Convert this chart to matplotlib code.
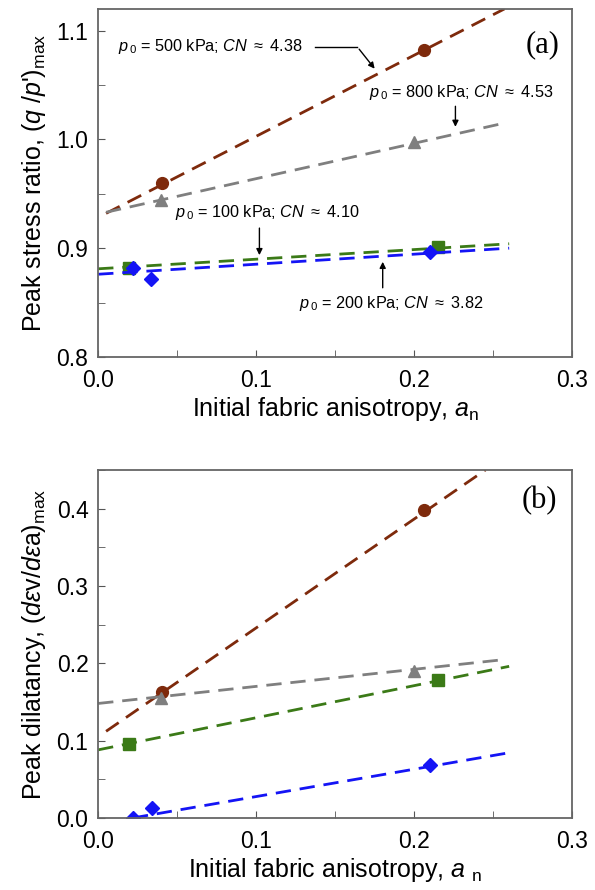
import numpy as np
import matplotlib
matplotlib.use("Agg")
import matplotlib.pyplot as plt
from matplotlib.ticker import MultipleLocator, FormatStrFormatter

plt.rcParams['font.family'] = ['Liberation Sans', 'DejaVu Sans']
plt.rcParams['mathtext.fontset'] = 'custom'
plt.rcParams['mathtext.rm'] = 'Liberation Sans'
plt.rcParams['mathtext.it'] = 'Liberation Sans:italic'
plt.rcParams['mathtext.bf'] = 'Liberation Sans:bold'

# ========================
# DATA
# ========================
labels = ["500", "800", "100", "200"]
colors = ["#7E2A0C", "#7F7F7F", "#3B7A17", "#1414F5"]
markers = ["o", "^", "s", "D"]
msizes = [8.5, 9, 8.5, 7]

# (a) peak stress ratio
an_a = [[0.0405, 0.206], [0.040, 0.200], [0.0196, 0.215], [0.022, 0.0335, 0.210]]
q_a = [[0.960, 1.082], [0.944, 0.998], [0.882, 0.901], [0.882, 0.872, 0.896]]
fit_x_a = [[0.005, 0.257], [0.005, 0.257], [0.0, 0.260], [0.0, 0.260]]
fit_y_a = [[0.932, 1.120], [0.933, 1.015], [0.881, 0.904], [0.876, 0.900]]

# (b) peak dilatancy
an_b = [[0.0405, 0.206], [0.040, 0.200], [0.0196, 0.215], [0.022, 0.034, 0.210]]
d_b = [[0.163, 0.398], [0.155, 0.190], [0.095, 0.178], [0.000, 0.013, 0.068]]
fit_x_b = [[0.005, 0.245], [0.0, 0.258], [0.0, 0.260], [0.022, 0.262]]
fit_y_b = [[0.112, 0.450], [0.148, 0.205], [0.088, 0.196], [0.000, 0.085]]

CN = ["4.38", "4.53", "4.10", "3.82"]

# ========================
# FIGURE
# ========================
fig = plt.figure(figsize=(5.95, 8.9), dpi=100)
ax1 = fig.add_axes([0.165, 0.599, 0.797, 0.391])
ax2 = fig.add_axes([0.165, 0.081, 0.797, 0.391])


def style(ax, ylim):
    ax.set_xlim(0, 0.3)
    ax.set_ylim(*ylim)
    ax.xaxis.set_major_locator(MultipleLocator(0.1))
    ax.xaxis.set_minor_locator(MultipleLocator(0.05))
    ax.yaxis.set_major_locator(MultipleLocator(0.1))
    ax.yaxis.set_minor_locator(MultipleLocator(0.05))
    ax.xaxis.set_major_formatter(FormatStrFormatter("%.1f"))
    ax.yaxis.set_major_formatter(FormatStrFormatter("%.1f"))
    ax.tick_params(which="both", direction="in", top=False, right=False,
                   labelsize=16.5, color="#555555", length=5)
    ax.tick_params(axis="x", pad=9)
    ax.tick_params(axis="y", pad=7)
    for s in ax.spines.values():
        s.set_color("#666666")
        s.set_linewidth(1.3)


for i in range(4):
    ax1.plot(fit_x_a[i], fit_y_a[i], ls=(0, (5.5, 3.2)), lw=2, color=colors[i])
    ax1.plot(an_a[i], q_a[i], ls="none", marker=markers[i], ms=msizes[i],
             color=colors[i])
    ax2.plot(fit_x_b[i], fit_y_b[i], ls=(0, (5.5, 3.2)), lw=2, color=colors[i])
    ax2.plot(an_b[i], d_b[i], ls="none", marker=markers[i], ms=msizes[i],
             color=colors[i])

style(ax1, (0.8, 1.12))
style(ax2, (0.0, 0.45))

ax1.set_xlabel(r"Initial fabric anisotropy, $a_{\rm n}$", fontsize=18, labelpad=2)
ax2.set_xlabel(r"Initial fabric anisotropy, $a\ _{\rm n}$", fontsize=18, labelpad=2)
ax1.set_ylabel(r"Peak stress ratio, ($q$ /$p$')$_{\rm max}$", fontsize=18, labelpad=6)
ax2.set_ylabel(r"Peak dilatancy, ($d\varepsilon$v/$d\varepsilon$a)$_{\rm max}$",
               fontsize=18, labelpad=6)

ax1.text(0.281, 1.087, "(a)", fontsize=22, family="Liberation Serif",
         ha="center", va="center")
ax2.text(0.279, 0.411, "(b)", fontsize=22, family="Liberation Serif",
         ha="center", va="center")

# annotations
def lab(p, c):
    return r"$p_{\,0}$ = " + p + r" kPa; $CN$ $\approx$ " + c

fs = 11.7
arr = dict(arrowstyle="-|>", color="k", lw=1, mutation_scale=9)
ax1.text(0.0127, 1.085, lab("500", CN[0]), fontsize=fs, ha="left", va="center")
ax1.plot([0.137, 0.164], [1.085, 1.085], color="k", lw=1)
ax1.annotate("", xy=(0.176, 1.063), xytext=(0.164, 1.085), arrowprops=arr)

ax1.text(0.1715, 1.043, lab("800", CN[1]), fontsize=fs, ha="left", va="center")
ax1.annotate("", xy=(0.226, 1.009), xytext=(0.226, 1.033), arrowprops=arr)

ax1.text(0.0487, 0.933, lab("100", CN[2]), fontsize=fs, ha="left", va="center")
ax1.annotate("", xy=(0.102, 0.891), xytext=(0.102, 0.921), arrowprops=arr)

ax1.text(0.127, 0.849, lab("200", CN[3]), fontsize=fs, ha="left", va="center")
ax1.annotate("", xy=(0.180, 0.890), xytext=(0.180, 0.861), arrowprops=arr)

plt.savefig("out.png", dpi=100)
